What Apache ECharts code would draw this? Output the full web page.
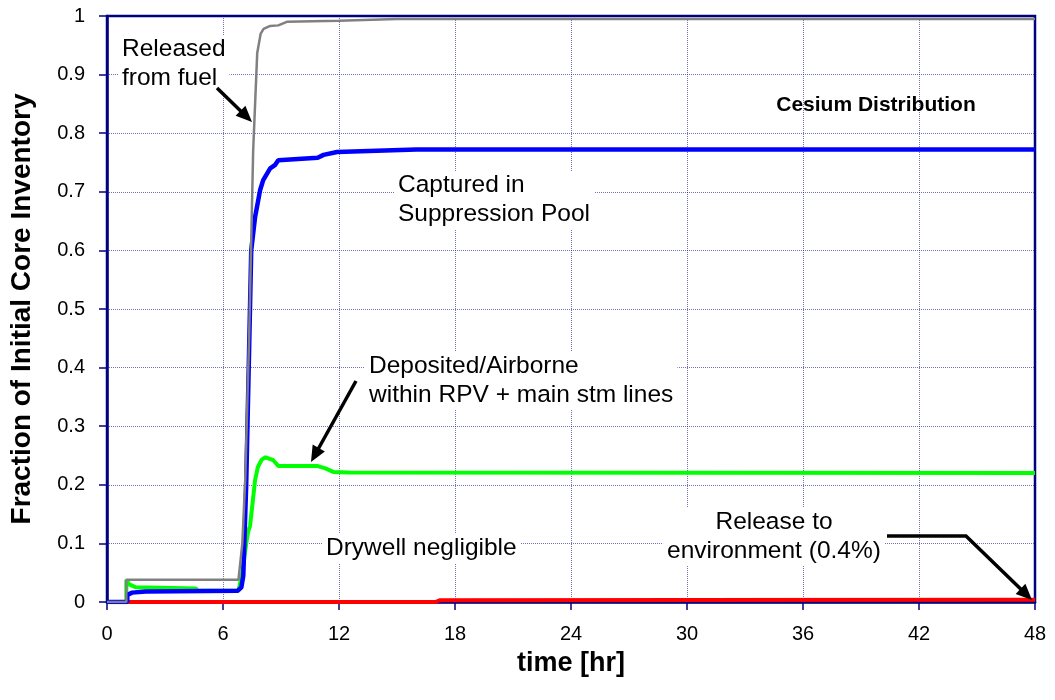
<!DOCTYPE html>
<html>
<head>
<meta charset="utf-8">
<script src="https://cdn.jsdelivr.net/npm/echarts@6/dist/echarts.min.js"></script>
<style>
  html, body { margin: 0; padding: 0; background: #fff; }
  #main { width: 1055px; height: 700px; }
</style>
</head>
<body>
<div id="main"></div>
<script>
// time [hr], fraction pairs
var releasedFromFuel = [
    [0, 0], [1.0, 0], [1.0, 0.038], [6.8, 0.038], [7.0, 0.1], [7.15, 0.21],
    [7.35, 0.45], [7.56, 0.77], [7.77, 0.937], [7.95, 0.97], [8.1, 0.978],
    [8.44, 0.983], [8.86, 0.984], [9.3, 0.99], [12, 0.992], [15, 0.995], [48, 0.995]
];
var suppressionPool = [
    [0, 0], [1.05, 0], [1.05, 0.012], [1.3, 0.016], [2, 0.018], [6.75, 0.019],
    [6.95, 0.025], [7.05, 0.045], [7.2, 0.2], [7.35, 0.43], [7.46, 0.6],
    [7.66, 0.657], [7.92, 0.703], [8.08, 0.72], [8.44, 0.74], [8.7, 0.746],
    [8.86, 0.754], [10.9, 0.758], [11.2, 0.763], [11.9, 0.768], [16, 0.772], [48, 0.772]
];
var depositedRPV = [
    [0, 0], [1.0, 0], [1.0, 0.038], [1.15, 0.03], [1.5, 0.025], [4.6, 0.023],
    [4.7, 0.019], [6.8, 0.019], [7.0, 0.05], [7.2, 0.1], [7.3, 0.12], [7.4, 0.13],
    [7.66, 0.208], [7.8, 0.23], [8.0, 0.243], [8.2, 0.247], [8.6, 0.242],
    [8.86, 0.232], [10.9, 0.232], [11.3, 0.228], [11.7, 0.222], [12.5, 0.221], [48, 0.22]
];
var releaseEnv = [
    [0, 0], [17.0, 0], [17.2, 0.003], [30, 0.0035], [48, 0.004]
];
var xTicks = [0, 6, 12, 18, 24, 30, 36, 42, 48];

var chart = echarts.init(document.getElementById('main'));
var fontFam = '"Liberation Sans", Arial, sans-serif';

function arrowHead(x1, y1, x2, y2) {
    var dx = x2 - x1, dy = y2 - y1;
    var len = Math.sqrt(dx * dx + dy * dy);
    var ux = dx / len, uy = dy / len;
    var hl = 16, hw = 7;
    var bx = x2 - ux * hl, by = y2 - uy * hl;
    return {
        type: 'polygon',
        shape: { points: [[x2, y2], [bx - uy * hw, by + ux * hw], [bx + uy * hw, by - ux * hw]] },
        style: { fill: '#000' },
        z: 100
    };
}

function arrow(points) {
    var n = points.length;
    var a = points[n - 2], b = points[n - 1];
    var dx = b[0] - a[0], dy = b[1] - a[1];
    var len = Math.sqrt(dx * dx + dy * dy);
    var stop = [b[0] - dx / len * 10, b[1] - dy / len * 10];
    var pts = points.slice(0, n - 1).concat([stop]);
    return [
        { type: 'polyline', shape: { points: pts }, style: { stroke: '#000', lineWidth: 3.5, fill: null }, z: 100 },
        arrowHead(a[0], a[1], b[0], b[1])
    ];
}

function label(x, y, text, align) {
    return {
        type: 'text',
        x: x, y: y, z: 90,
        style: {
            text: text,
            fill: '#000',
            font: '24.5px ' + fontFam,
            lineHeight: 29,
            align: align || 'left',
            verticalAlign: 'top',
            backgroundColor: '#fff',
            padding: [0, 4, 0, 4]
        }
    };
}

var graphics = [
    label(118, 35, 'Released\nfrom fuel'),
    label(394, 171, 'Captured in\nSuppression Pool'),
    label(365, 352, 'Deposited/Airborne\nwithin RPV + main stm lines'),
    label(322, 534, 'Drywell negligible'),
    label(774, 508, 'Release to\nenvironment (0.4%)', 'center'),
    {
        type: 'text', x: 876, y: 105, z: 90,
        style: {
            text: 'Cesium Distribution', fill: '#000',
            font: 'bold 21px ' + fontFam,
            align: 'center', verticalAlign: 'middle'
        }
    }
].concat(arrow([[217, 88], [252, 122]]))
 .concat(arrow([[356, 381], [311, 462]]))
 .concat(arrow([[887, 536], [966, 536], [1032, 600]]));

var option = {
    animation: false,
    grid: {
        left: 107, right: 20, top: 16, bottom: 98,
        containLabel: false, outerBoundsMode: 'none',
        show: true, borderColor: '#000080', borderWidth: 2.5
    },
    xAxis: {
        type: 'value', min: 0, max: 48, interval: 6,
        name: 'time [hr]', nameLocation: 'middle', nameGap: 48,
        nameTextStyle: { fontFamily: fontFam, fontWeight: 'bold', fontSize: 27, color: '#000' },
        axisLine: { show: true, lineStyle: { color: '#000080', width: 2.5 } },
        axisTick: { show: true, length: 8, lineStyle: { color: '#000080', width: 1.5 } },
        axisLabel: { fontFamily: fontFam, fontSize: 20, color: '#000', margin: 22,
            formatter: function (v) { return xTicks.indexOf(v) >= 0 ? String(v) : ''; } },
        splitLine: { show: true, lineStyle: { color: 'rgba(0,0,128,0.55)', type: 'dotted', width: 1 } }
    },
    yAxis: {
        type: 'value', min: 0, max: 1, interval: 0.1,
        name: 'Fraction of Initial Core Inventory', nameLocation: 'middle', nameGap: 71,
        nameTextStyle: { fontFamily: fontFam, fontWeight: 'bold', fontSize: 28, color: '#000' },
        axisLine: { show: true, lineStyle: { color: '#000080', width: 2.5 } },
        axisTick: { show: true, length: 8, lineStyle: { color: '#000080', width: 1.5 } },
        axisLabel: { fontFamily: fontFam, fontSize: 20, color: '#000', margin: 22,
            formatter: function (v) { return String(Math.round(v * 10) / 10); } },
        splitLine: { show: true, lineStyle: { color: 'rgba(0,0,128,0.55)', type: 'dotted', width: 1 } }
    },
    series: [
        {
            name: 'Release to environment', type: 'line', data: releaseEnv,
            showSymbol: false, lineStyle: { color: '#ff0000', width: 4 }, z: 2
        },
        {
            name: 'Deposited/Airborne within RPV', type: 'line', data: depositedRPV,
            showSymbol: false, lineStyle: { color: '#00ff00', width: 4 }, z: 3
        },
        {
            name: 'Captured in Suppression Pool', type: 'line', data: suppressionPool,
            showSymbol: false, lineStyle: { color: '#0000ff', width: 4.5 }, z: 4
        },
        {
            name: 'Released from fuel', type: 'line', data: releasedFromFuel,
            showSymbol: false, lineStyle: { color: '#808080', width: 2.5 }, z: 5
        }
    ],
    graphic: graphics
};

chart.setOption(option);
</script>
</body>
</html>
